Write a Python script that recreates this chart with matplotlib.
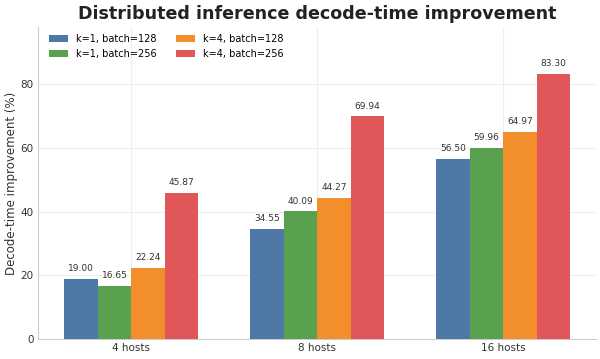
import matplotlib
matplotlib.use("Agg")
import matplotlib.pyplot as plt
import numpy as np

categories = ["4 hosts", "8 hosts", "16 hosts"]
series_names = ["k=1, batch=128", "k=1, batch=256", "k=4, batch=128", "k=4, batch=256"]
k1_b128 = [19.00, 34.55, 56.50]
k1_b256 = [16.65, 40.09, 59.96]
k4_b128 = [22.24, 44.27, 64.97]
k4_b256 = [45.87, 69.94, 83.30]
series = [k1_b128, k1_b256, k4_b128, k4_b256]
colors = ["#4e79a7", "#59a14f", "#f28e2b", "#e15759"]

fig = plt.figure(figsize=(6.0, 3.59), dpi=100)
ax = fig.add_axes([0.064, 0.0557, 0.93, 0.869])
x = np.arange(len(categories))
w = 0.18
for i, (vals, name, c) in enumerate(zip(series, series_names, colors)):
    pos = x + (i - 1.5) * w
    bars = ax.bar(pos, vals, w, color=c, label=name, zorder=3)
    for b, v in zip(bars, vals):
        ax.text(b.get_x() + b.get_width() / 2, v + 1.8, f"{v:.2f}", ha="center",
                va="bottom", fontsize=6.5, color="#333333", zorder=4)

ax.set_xlim(-0.5, 2.5)
ax.set_ylim(0, 98)
ax.set_xticks(x)
ax.set_xticklabels(categories, fontsize=7.5, color="#333333")
ax.set_yticks([0, 20, 40, 60, 80])
ax.tick_params(axis="y", labelsize=7.5, colors="#333333", length=0)
ax.tick_params(axis="x", length=0, pad=3)
ax.set_ylabel("Decode-time improvement (%)", fontsize=8.5, color="#333333", labelpad=1.5)
ax.grid(True, color="#eeeeee", linewidth=0.8, zorder=0)
for s in ["top", "right"]:
    ax.spines[s].set_visible(False)
for s in ["left", "bottom"]:
    ax.spines[s].set_color("#cccccc")
ax.legend(ncol=2, loc="upper left", bbox_to_anchor=(0.006, 1.0), fontsize=7, frameon=False,
          handlelength=2.0, handleheight=0.8, columnspacing=2.0, borderaxespad=0.3)
fig.text(0.528, 0.96, "Distributed inference decode-time improvement", fontsize=12.6,
         fontweight="bold", color="#222222", ha="center", va="center")
fig.savefig("out.png", dpi=100)
